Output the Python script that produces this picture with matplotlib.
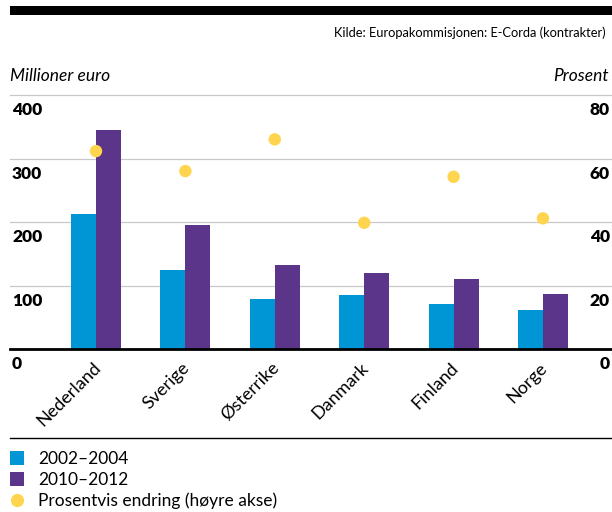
import numpy as np
import matplotlib
matplotlib.use("Agg")
import matplotlib.pyplot as plt
from matplotlib.lines import Line2D
from matplotlib.patches import Rectangle

plt.rcParams['font.family'] = ['Lato', 'DejaVu Sans']

countries = ["Nederland", "Sverige", "Østerrike", "Danmark", "Finland", "Norge"]
period_early = [213, 124, 79, 85, 71, 61]      # 2002–2004, mill. euro
period_late = [346, 195, 132, 120, 110, 87]    # 2010–2012, mill. euro
pct_change = [62.4, 56.1, 66.1, 39.8, 54.3, 41.2]  # prosent, høyre akse

left_ticks = [0, 100, 200, 300, 400]
right_ticks = [0, 20, 40, 60, 80]
series_labels = ["2002–2004", "2010–2012", "Prosentvis endring (høyre akse)"]

CYAN = "#0096d6"
PURPLE = "#5b3589"
YELLOW = "#ffd54f"
GRID = "#c8c8c8"

W, H = 612, 512
fig = plt.figure(figsize=(W / 100, H / 100), dpi=100)

def fx(px):
    return px / W

def fy(py):
    return 1 - py / H

ax = fig.add_axes([fx(10), fy(349), fx(602), (349 - 95.3) / H])
x = np.arange(len(countries))
bw = 0.28
ax.set_xlim(-0.962, 5.772)
ax.set_ylim(0, 400)

for v in left_ticks[1:]:
    ax.axhline(v, color=GRID, lw=0.9, zorder=0, clip_on=False)

ax.bar(x - bw / 2, period_early, width=bw, color=CYAN, zorder=2)
ax.bar(x + bw / 2, period_late, width=bw, color=PURPLE, zorder=2)
ax.axhline(0, color="black", lw=2.0, zorder=3, clip_on=False)

for s in ax.spines.values():
    s.set_visible(False)
ax.set_xticks([])
ax.set_yticks([])

ax2 = ax.twinx()
ax2.set_ylim(0, 80)
ax2.scatter(x, pct_change, s=80, color=YELLOW, edgecolors="none", zorder=4)
for s in ax2.spines.values():
    s.set_visible(False)
ax2.set_yticks([])
ax2.set_xlim(ax.get_xlim())

# value labels tucked just under each gridline
for v in left_ticks:
    ax.annotate(str(v), xy=(0, v), xycoords=ax.get_yaxis_transform(),
                xytext=(1.5, -5), textcoords="offset points",
                ha="left", va="top", fontsize=12.5, fontweight="heavy")
for v in right_ticks:
    ax2.annotate(str(v), xy=(1, v), xycoords=ax2.get_yaxis_transform(),
                 xytext=(-1.5, -5), textcoords="offset points",
                 ha="right", va="top", fontsize=12.5, fontweight="heavy")

# rotated country names
for xi, name in zip(x, countries):
    ax.annotate(name, xy=(xi, 0), xycoords=("data", "axes fraction"),
                xytext=(5.5, -7.5), textcoords="offset points",
                rotation=45, ha="right", va="top", fontsize=13)

# header
fig.add_artist(Rectangle((fx(10), fy(15)), fx(602), 9 / H,
                         transform=fig.transFigure, color="black", lw=0))
fig.text(fx(606), fy(33), "Kilde: Europakommisjonen: E-Corda (kontrakter)",
         ha="right", va="center", fontsize=9.3)
fig.text(fx(10), fy(76), "Millioner euro", ha="left", va="center",
         fontsize=12.5, style="italic")
fig.text(fx(609), fy(76), "Prosent", ha="right", va="center",
         fontsize=12.5, style="italic")

# legend
fig.add_artist(Line2D([fx(10), fx(612)], [fy(438), fy(438)],
                      transform=fig.transFigure, color="black", lw=1.0))
handles = [
    Line2D([], [], marker="s", ls="none", color=CYAN, markersize=10.5, markeredgewidth=0),
    Line2D([], [], marker="s", ls="none", color=PURPLE, markersize=10.5, markeredgewidth=0),
    Line2D([], [], marker="o", ls="none", color=YELLOW, markersize=9.5, markeredgewidth=0),
]
fig.legend(handles, series_labels, loc="upper left",
           bbox_to_anchor=(fx(9.4), fy(451)), frameon=False,
           fontsize=12.5, borderpad=0, borderaxespad=0,
           handlelength=0.9, handletextpad=0.75, labelspacing=0.28)

fig.savefig("out.png", dpi=100)
